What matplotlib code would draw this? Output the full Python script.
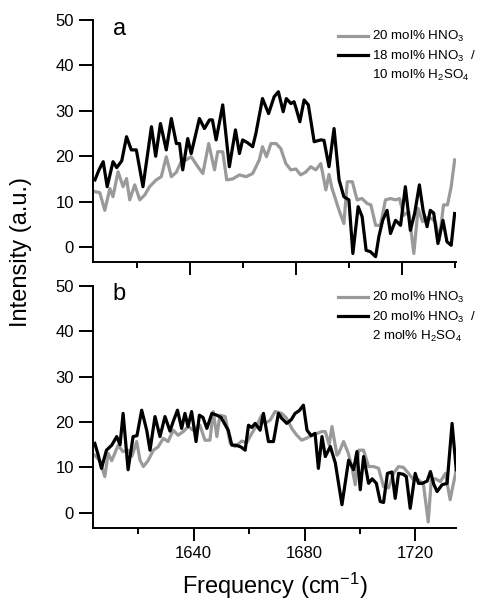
import numpy as np
import matplotlib
matplotlib.use("Agg")
import matplotlib.pyplot as plt
from matplotlib.lines import Line2D
from matplotlib.ticker import MultipleLocator

plt.rcParams['font.family'] = ['Liberation Sans', 'DejaVu Sans']
plt.rcParams['mathtext.fontset'] = 'custom'
plt.rcParams['mathtext.rm'] = 'Liberation Sans'
plt.rcParams['mathtext.it'] = 'Liberation Sans:italic'

# panel a: 20 mol% HNO3 (gray)
freq_a_gray = [1604.3, 1606.1, 1608.0, 1609.9, 1611.1, 1613.0, 1614.9, 1616.2, 1617.4, 1619.3,
               1621.2, 1623.1, 1624.9, 1627.4, 1629.3, 1631.2, 1633.1, 1635.0, 1636.8, 1638.7,
               1640.6, 1643.1, 1645.0, 1647.2, 1649.4, 1650.6, 1652.5, 1654.0, 1656.2, 1658.8,
               1661.3, 1663.8, 1666.3, 1667.5, 1669.0, 1670.7, 1672.6, 1674.4, 1676.3, 1678.2,
               1680.1, 1681.9, 1683.8, 1685.7, 1687.6, 1689.5, 1691.4, 1692.6, 1693.7, 1696.4,
               1698.2, 1699.5, 1701.4, 1703.2, 1705.0, 1707.0, 1708.4, 1710.2, 1712.0, 1713.9,
               1715.8, 1717.7, 1719.2, 1720.8, 1722.7, 1724.6, 1726.2, 1727.9, 1729.6, 1731.2,
               1732.7, 1734.2, 1735.8, 1737.3, 1738.7, 1740.0]
int_a_gray = [12.2, 12.0, 8.1, 12.9, 11.1, 16.6, 13.3, 15.1, 10.4, 13.7,
              10.4, 11.5, 13.3, 14.8, 15.5, 19.9, 15.5, 16.5, 18.8, 19.2,
              19.9, 17.7, 16.2, 22.8, 17.0, 21.0, 21.0, 14.8, 15.0, 15.9,
              15.5, 16.2, 19.2, 22.1, 19.9, 22.8, 22.8, 21.7, 18.4, 17.0,
              17.2, 15.9, 16.5, 17.7, 17.0, 18.4, 12.6, 16.0, 13.0, 8.1,
              5.2, 14.4, 14.4, 10.4, 10.7, 9.6, 9.3, 4.8, 4.8, 10.4,
              10.7, 10.4, 10.7, 7.0, 7.8, -1.4, 8.5, 5.6, 6.5, 6.3,
              5.6, 1.5, 9.3, 9.3, 13.3, 19.2]

# panel a: 18 mol% HNO3 / 10 mol% H2SO4 (black)
freq_a_black = [1604.3, 1605.8, 1607.4, 1608.9, 1611.1, 1612.5, 1614.4, 1616.2, 1618.0, 1619.9,
                1622.4, 1625.6, 1627.2, 1629.0, 1631.2, 1633.1, 1635.0, 1636.2, 1637.4, 1639.3,
                1640.6, 1643.7, 1645.6, 1647.5, 1648.6, 1650.0, 1652.5, 1655.0, 1657.3, 1658.8,
                1660.0, 1661.8, 1663.8, 1665.0, 1667.5, 1669.8, 1671.9, 1673.5, 1675.3, 1676.5,
                1678.2, 1679.4, 1680.2, 1681.6, 1683.2, 1684.8, 1687.0, 1689.5, 1690.7, 1692.6,
                1694.5, 1696.4, 1698.2, 1700.1, 1701.6, 1703.6, 1705.1, 1706.6, 1708.2, 1710.2,
                1711.4, 1712.9, 1714.5, 1715.8, 1717.7, 1719.6, 1721.4, 1723.3, 1724.9, 1726.7,
                1728.1, 1729.6, 1730.8, 1732.1, 1733.7, 1735.6, 1737.1, 1738.7, 1740.0]
int_a_black = [14.8, 17.0, 18.8, 13.3, 18.8, 17.5, 19.0, 24.3, 21.4, 21.4,
               13.3, 26.5, 20.0, 27.2, 21.4, 28.3, 22.8, 22.8, 17.0, 23.9,
               20.6, 28.3, 26.1, 28.0, 28.0, 23.6, 31.3, 17.7, 25.8, 20.6,
               23.6, 23.0, 22.1, 25.0, 32.7, 29.4, 33.1, 34.2, 29.8, 32.7,
               31.6, 32.0, 30.5, 27.6, 32.4, 31.3, 23.2, 23.6, 23.5, 17.7,
               26.1, 14.8, 11.1, 10.4, -1.4, 8.9, 6.7, -0.7, -1.0, -2.1,
               2.3, 6.0, 8.1, 3.0, 5.9, 4.8, 13.3, 3.7, 7.4, 13.7,
               8.1, 4.5, 8.1, 7.5, 0.8, 5.9, 1.2, 0.4, 7.4]

# panel b: 20 mol% HNO3 (gray)
freq_b_gray = [1604.4, 1606.2, 1608.0, 1609.2, 1610.5, 1611.6, 1612.8, 1614.5, 1616.4, 1617.8,
               1619.5, 1620.7, 1621.9, 1623.6, 1625.5, 1627.2, 1629.1, 1630.8, 1632.7, 1634.4,
               1636.3, 1638.1, 1639.8, 1642.3, 1644.1, 1645.9, 1647.1, 1648.4, 1649.5, 1651.4,
               1653.2, 1655.0, 1657.4, 1659.2, 1661.0, 1662.8, 1664.6, 1665.8, 1667.6, 1669.4,
               1671.8, 1673.6, 1675.4, 1677.2, 1679.0, 1680.9, 1682.7, 1684.5, 1686.3, 1687.5,
               1688.9, 1689.9, 1691.7, 1692.3, 1694.1, 1695.8, 1697.1, 1698.3, 1699.5, 1701.3,
               1703.1, 1704.9, 1706.7, 1708.5, 1710.3, 1712.1, 1713.9, 1715.7, 1717.5, 1719.3,
               1721.1, 1722.9, 1724.6, 1725.7, 1727.2, 1729.0, 1730.8, 1732.5, 1734.7]
int_b_gray = [12.7, 11.5, 8.0, 13.1, 11.5, 13.1, 14.9, 13.5, 13.8, 12.5,
              15.7, 11.6, 10.2, 11.5, 13.8, 14.5, 16.4, 15.7, 18.2, 17.1,
              17.9, 19.0, 18.2, 19.3, 16.0, 16.0, 22.3, 16.8, 21.5, 21.2,
              15.3, 14.6, 15.8, 15.5, 17.5, 19.3, 21.5, 19.7, 20.4, 22.3,
              21.9, 20.8, 18.6, 17.1, 16.0, 16.5, 17.1, 17.5, 17.9, 17.9,
              15.0, 19.0, 12.7, 13.1, 15.7, 13.1, 10.0, 6.2, 13.8, 13.8,
              10.2, 10.2, 9.8, 5.8, 5.5, 8.7, 10.2, 10.0, 8.7, 7.3,
              7.3, 6.2, -2.0, 7.3, 7.5, 6.9, 8.7, 2.9, 9.5]

# panel b: 20 mol% HNO3 / 2 mol% H2SO4 (black)
freq_b_black = [1604.4, 1605.5, 1606.8, 1608.6, 1610.5, 1612.3, 1613.5, 1614.6, 1616.4, 1618.2,
                1619.6, 1621.3, 1623.1, 1624.3, 1626.1, 1627.9, 1629.7, 1631.5, 1632.6, 1634.2,
                1635.7, 1636.9, 1638.0, 1639.3, 1640.9, 1642.1, 1643.4, 1644.8, 1646.6, 1648.4,
                1649.9, 1652.5, 1653.8, 1655.3, 1657.1, 1658.6, 1659.8, 1661.0, 1662.2, 1664.0,
                1665.2, 1667.0, 1668.8, 1670.6, 1671.8, 1673.6, 1675.2, 1676.6, 1678.1, 1679.6,
                1680.9, 1682.4, 1683.8, 1685.0, 1686.3, 1687.5, 1689.3, 1691.1, 1693.5, 1695.9,
                1697.7, 1698.9, 1700.1, 1701.3, 1703.1, 1704.4, 1705.9, 1707.3, 1708.5, 1709.9,
                1711.5, 1712.7, 1713.9, 1715.6, 1716.7, 1718.1, 1719.9, 1721.1, 1722.4, 1724.2,
                1725.4, 1726.6, 1727.8, 1729.6, 1731.4, 1733.2, 1734.7]
int_b_black = [15.3, 13.0, 9.8, 13.8, 14.9, 16.8, 15.0, 21.9, 9.5, 16.8,
               17.0, 22.6, 18.2, 13.8, 21.2, 16.8, 21.2, 18.0, 20.0, 22.6,
               18.6, 21.9, 19.0, 22.3, 15.7, 21.5, 21.0, 18.6, 21.9, 21.5,
               21.0, 18.2, 14.9, 14.9, 14.5, 13.8, 19.3, 18.8, 19.7, 18.2,
               21.9, 15.7, 15.7, 21.9, 20.8, 19.7, 20.5, 21.9, 22.5, 23.7,
               18.2, 17.0, 17.5, 9.8, 16.8, 12.4, 14.6, 11.0, 1.8, 11.6,
               9.5, 13.5, 5.1, 12.4, 6.5, 7.5, 6.5, 2.5, 2.3, 8.7,
               9.0, 3.2, 8.7, 8.5, 8.0, 1.0, 8.7, 6.5, 6.5, 7.0,
               9.1, 6.3, 4.7, 6.2, 6.5, 19.7, 9.5]

labels_a = ['20 mol% HNO$_\\mathregular{3}$', '18 mol% HNO$_\\mathregular{3}$  /',
            '10 mol% H$_\\mathregular{2}$SO$_\\mathregular{4}$']
labels_b = ['20 mol% HNO$_\\mathregular{3}$', '20 mol% HNO$_\\mathregular{3}$  /',
            '2 mol% H$_\\mathregular{2}$SO$_\\mathregular{4}$']

GRAY = '#9a9a9a'
LW = 2.3

fig = plt.figure(figsize=(4.94, 6.04), dpi=100)
ax_a = fig.add_axes([0.188, 0.566, 0.735, 0.401])
ax_b = fig.add_axes([0.188, 0.126, 0.735, 0.401])


def style_axis(ax, xlim, show_labels):
    for side in ['top', 'right']:
        ax.spines[side].set_visible(False)
    for side in ['left', 'bottom']:
        ax.spines[side].set_linewidth(1.4)
    ax.set_xlim(*xlim)
    ax.set_ylim(-3.3, 50)
    ax.yaxis.set_major_locator(MultipleLocator(10))
    ax.xaxis.set_major_locator(MultipleLocator(40))
    ax.xaxis.set_minor_locator(MultipleLocator(20))
    ax.tick_params(axis='y', direction='out', length=10, width=1.4, labelsize=12, pad=3.5)
    ax.tick_params(axis='x', which='major', direction='out', length=9, width=1.4,
                   labelsize=12, pad=4)
    ax.tick_params(axis='x', which='minor', direction='out', length=4, width=1.4)
    if not show_labels:
        ax.tick_params(axis='x', which='both', labelbottom=False)


def legend_for(ax, labels, top):
    handles = [Line2D([], [], color=GRAY, lw=LW),
               Line2D([], [], color='black', lw=LW),
               Line2D([], [], color='none', lw=LW)]
    ax.legend(handles, labels, loc='upper left', bbox_to_anchor=(0.65, top),
              frameon=False, fontsize=9.6, handlelength=2.2, handletextpad=0.3,
              labelspacing=0.32, borderaxespad=0.3)


ax_a.plot(freq_a_gray, int_a_gray, color=GRAY, lw=LW)
ax_a.plot(freq_a_black, int_a_black, color='black', lw=LW)
style_axis(ax_a, (1603.5, 1740.5), False)
legend_for(ax_a, labels_a, 1.0)
ax_a.text(0.055, 1.01, 'a', transform=ax_a.transAxes, fontsize=17, va='top', ha='left')

ax_b.plot(freq_b_gray, int_b_gray, color=GRAY, lw=LW)
ax_b.plot(freq_b_black, int_b_black, color='black', lw=LW)
style_axis(ax_b, (1603.7, 1734.6), True)
legend_for(ax_b, labels_b, 1.02)
ax_b.text(0.055, 1.01, 'b', transform=ax_b.transAxes, fontsize=17, va='top', ha='left')
ax_b.set_xlabel('Frequency (cm$^{\\mathregular{-1}}$)', fontsize=17, labelpad=7)

fig.text(0.042, 0.583, 'Intensity (a.u.)', rotation=90, fontsize=17, ha='center', va='center')

fig.savefig('out.png', dpi=100, facecolor='white')
